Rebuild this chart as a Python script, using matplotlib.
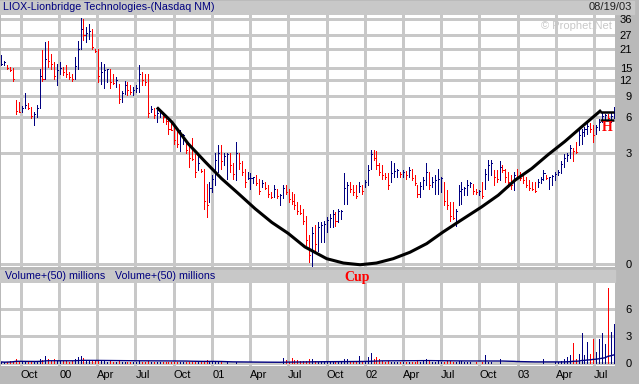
import numpy as np
import pandas as pd
import matplotlib
matplotlib.use('Agg')
import matplotlib.pyplot as plt
from matplotlib.patches import Rectangle

plt.rcParams['font.family'] = ['Liberation Sans', 'DejaVu Sans']

# LIOX weekly bars, week of 08/16/99 .. week of 08/18/03
start = '1999-08-16'
highs = [18.8, 17.0, 15.9, 15.2, 14.9, 8.3, 8.0, 7.5, 9.5, 7.9,
         7.3, 6.6, 7.6, 14.8, 20.6, 23.9, 24.2, 19.4, 16.7, 16.2,
         16.7, 15.2, 15.7, 13.9, 13.5, 18.3, 24.2, 36.7, 36.2, 31.3,
         33.2, 30.3, 21.2, 21.2, 16.7, 16.2, 14.8, 14.8, 13.5, 12.7,
         11.2, 9.9, 11.9, 11.6, 10.9, 10.6, 10.9, 15.7, 13.9, 13.5,
         13.5, 7.5, 7.1, 6.9, 6.9, 6.6, 6.3, 5.9, 5.5, 5.2,
         4.7, 4.7, 4.4, 3.7, 3.5, 4.0, 2.9, 2.8, 2.15, 2.15,
         1.53, 1.6, 1.86, 3.0, 3.5, 3.5, 3.0, 3.0, 3.0, 2.4,
         3.7, 3.0, 2.5, 2.15, 2.0, 1.93, 1.79, 1.86, 1.72, 1.66,
         1.6, 1.48, 1.26, 1.48, 1.36, 1.21, 1.48, 1.48, 1.36, 1.26,
         1.21, 0.98, 0.89, 0.81, 0.66, 0.33, 0.45, 0.48, 0.53, 0.53,
         0.56, 0.63, 0.70, 0.77, 0.73, 0.81, 0.77, 1.93, 1.60, 1.60,
         1.48, 1.48, 1.60, 1.48, 1.66, 2.3, 3.2, 3.2, 3.1, 2.4,
         2.3, 1.93, 1.93, 2.5, 2.4, 2.15, 2.0, 2.1, 2.05, 2.2,
         2.15, 1.86, 1.48, 1.6, 1.79, 2.4, 2.0, 1.79, 1.86, 2.15,
         1.79, 1.6, 1.31, 0.98, 0.98, 0.81, 1.48, 1.6, 1.42, 1.66,
         1.6, 1.53, 1.36, 1.31, 1.6, 2.15, 2.6, 2.6, 2.1, 2.1,
         2.5, 2.3, 2.15, 2.0, 1.86, 2.0, 2.15, 2.0, 1.86, 1.79,
         1.66, 1.6, 1.6, 1.72, 1.79, 2.1, 1.86, 1.79, 1.86, 2.0,
         2.1, 2.5, 2.9, 3.0, 3.5, 3.3, 3.7, 4.7, 4.85, 5.0,
         5.35, 5.35, 5.2, 5.2, 5.85, 6.65, 6.45, 6.45, 6.65, 7.3]
lows = [15.7, 15.7, 14.8, 14.3, 11.9, 6.4, 6.6, 6.6, 7.1, 7.0,
        5.9, 5.2, 6.1, 7.1, 11.9, 12.3, 15.2, 14.8, 12.3, 10.9,
        13.5, 13.1, 12.7, 12.3, 11.9, 12.3, 14.8, 21.2, 24.7, 23.9,
        25.4, 21.2, 19.9, 11.6, 11.2, 10.3, 11.6, 10.3, 11.2, 10.6,
        7.8, 8.0, 9.3, 9.1, 9.3, 9.1, 9.6, 9.6, 10.9, 10.9,
        6.1, 6.6, 5.9, 5.5, 6.1, 5.5, 5.3, 4.4, 4.7, 3.6,
        3.4, 3.1, 3.6, 3.0, 2.2, 2.6, 1.8, 2.1, 2.0, 0.81,
        0.63, 0.98, 1.26, 1.48, 2.0, 2.15, 2.3, 1.72, 2.0, 1.72,
        1.66, 2.15, 1.86, 1.42, 1.72, 1.36, 1.54, 1.48, 1.21, 1.42,
        1.36, 1.12, 1.07, 1.12, 1.07, 0.89, 1.07, 1.21, 0.98, 0.93,
        0.81, 0.70, 0.70, 0.50, 0.19, 0.01, -0.02, 0.12, 0.12, 0.23,
        0.23, 0.37, 0.45, 0.45, 0.47, 0.53, 0.60, 0.93, 0.93, 1.26,
        1.16, 1.07, 1.26, 1.21, 1.42, 1.48, 2.15, 2.6, 2.15, 1.86,
        1.72, 1.72, 1.36, 1.6, 1.79, 1.79, 1.79, 1.79, 1.72, 1.79,
        1.66, 1.48, 1.12, 1.12, 1.36, 1.48, 1.36, 1.42, 1.21, 1.21,
        1.26, 0.89, 0.81, 0.56, 0.60, 0.47, 0.89, 0.93, 1.16, 1.16,
        1.42, 1.21, 1.21, 1.16, 1.07, 1.36, 1.66, 1.86, 1.48, 1.6,
        1.66, 2.0, 1.6, 1.42, 1.36, 1.31, 1.72, 1.66, 1.54, 1.42,
        1.31, 1.31, 1.26, 1.42, 1.54, 1.66, 1.72, 1.36, 1.48, 1.66,
        1.86, 1.93, 2.2, 2.5, 2.7, 2.5, 3.0, 3.5, 3.6, 4.15,
        4.4, 4.5, 3.75, 4.4, 4.7, 5.5, 5.7, 5.7, 5.5, 5.9]
closes = [16.2, 16.6, 15.0, 14.5, 12.3, 6.8, 6.7, 7.2, 7.6, 7.2,
          6.2, 6.4, 7.2, 13.0, 12.3, 17.5, 17.0, 16.0, 13.0, 14.5,
          15.0, 14.0, 13.5, 12.8, 12.2, 15.5, 21.0, 30.0, 27.0, 28.0,
          29.0, 22.0, 20.2, 13.0, 14.0, 14.5, 14.6, 11.5, 11.3, 12.0,
          8.5, 9.5, 11.0, 10.0, 9.6, 10.0, 10.4, 13.5, 12.0, 11.5,
          6.5, 7.0, 6.3, 6.5, 6.7, 6.0, 5.6, 4.8, 4.75, 3.9,
          3.6, 4.2, 4.3, 3.2, 2.7, 2.65, 2.0, 2.4, 2.05, 1.0,
          0.9, 1.4, 1.7, 2.6, 3.0, 2.5, 2.8, 2.9, 2.3, 1.9,
          3.0, 2.4, 2.0, 1.6, 1.74, 1.75, 1.77, 1.55, 1.3, 1.55,
          1.4, 1.2, 1.1, 1.35, 1.15, 1.18, 1.4, 1.25, 1.05, 1.0,
          0.9, 0.75, 0.72, 0.55, 0.25, 0.08, 0.35, 0.2, 0.45, 0.48,
          0.5, 0.58, 0.62, 0.7, 0.55, 0.75, 0.76, 1.4, 1.5, 1.35,
          1.25, 1.15, 1.45, 1.3, 1.6, 2.1, 2.9, 2.7, 2.3, 2.0,
          1.85, 1.78, 1.5, 1.95, 2.05, 2.1, 1.9, 2.0, 1.85, 2.1,
          1.75, 1.55, 1.2, 1.45, 1.65, 2.0, 1.5, 1.6, 1.65, 1.7,
          1.75, 1.0, 0.9, 0.65, 0.62, 0.75, 1.3, 1.35, 1.4, 1.5,
          1.55, 1.3, 1.25, 1.28, 1.15, 1.9, 2.3, 2.4, 1.8, 1.7,
          2.2, 2.1, 1.8, 1.6, 1.5, 1.85, 1.8, 1.75, 1.65, 1.5,
          1.4, 1.35, 1.3, 1.6, 1.7, 1.95, 1.75, 1.78, 1.82, 1.9,
          2.0, 2.35, 2.7, 2.85, 3.3, 3.1, 3.05, 4.3, 4.5, 4.8,
          5.1, 4.8, 4.3, 5.0, 5.5, 6.2, 6.3, 5.9, 6.2, 6.8]
# weekly volume, millions
volumes = [0.15, 0.10, 0.15, 0.20, 0.26, 0.48, 0.20, 0.15, 0.22, 0.15,
           0.20, 0.18, 0.22, 0.44, 0.37, 0.81, 0.52, 0.30, 0.44, 0.30,
           0.25, 0.20, 0.22, 0.15, 0.20, 0.44, 0.70, 0.81, 0.59, 0.37,
           0.30, 0.26, 0.22, 0.30, 0.20, 0.22, 0.18, 0.20, 0.15, 0.18,
           0.22, 0.18, 0.15, 0.15, 0.18, 0.15, 0.12, 0.20, 0.15, 0.15,
           0.22, 0.15, 0.12, 0.15, 0.12, 0.15, 0.12, 0.15, 0.10, 0.15,
           0.12, 0.15, 0.10, 0.12, 0.18, 0.12, 0.15, 0.10, 0.10, 0.18,
           0.37, 0.15, 0.12, 0.15, 0.10, 0.12, 0.08, 0.10, 0.08, 0.07,
           0.10, 0.07, 0.06, 0.08, 0.05, 0.06, 0.05, 0.07, 0.06, 0.05,
           0.06, 0.07, 0.05, 0.06, 0.07, 0.08, 0.63, 0.41, 0.15, 0.59,
           0.37, 0.41, 0.20, 0.25, 0.30, 0.52, 0.44, 0.20, 0.18, 0.15,
           0.20, 0.15, 0.18, 0.15, 0.12, 0.15, 0.18, 0.44, 0.52, 0.20,
           0.18, 0.20, 0.81, 0.30, 0.20, 0.74, 1.15, 0.44, 0.74, 0.48,
           0.22, 0.18, 0.20, 0.15, 0.18, 0.15, 0.12, 0.15, 0.18, 0.15,
           0.12, 0.15, 0.20, 0.18, 0.22, 0.44, 0.20, 0.15, 0.18, 0.20,
           0.15, 0.18, 0.20, 0.22, 0.15, 0.18, 0.20, 0.20, 0.15, 0.12,
           0.10, 0.08, 0.10, 0.07, 0.10, 0.93, 0.12, 0.10, 0.08, 0.07,
           0.44, 0.08, 0.06, 0.07, 0.05, 0.08, 0.06, 0.05, 0.07, 0.06,
           0.05, 0.06, 0.07, 0.05, 0.08, 0.44, 0.07, 0.06, 0.08, 0.10,
           0.12, 0.20, 0.52, 0.70, 0.93, 2.30, 0.48, 1.04, 3.40, 0.96,
           2.40, 1.04, 2.74, 1.30, 2.74, 3.33, 2.15, 8.40, 3.50, 4.40]

# hand drawn cup and handle
cup_dates = ['2000-08-24', '2000-09-26', '2000-11-04', '2000-12-14', '2001-01-23',
             '2001-03-04', '2001-04-13', '2001-05-23', '2001-07-01', '2001-08-10',
             '2001-10-01', '2001-11-10', '2001-12-20', '2002-01-28', '2002-03-09',
             '2002-04-18', '2002-05-28', '2002-07-06', '2002-08-16', '2002-10-06',
             '2002-11-15', '2002-12-25', '2003-02-03', '2003-03-14', '2003-04-23',
             '2003-06-02', '2003-07-16']
cup_prices = [7.1, 5.5, 3.6, 2.5, 1.72, 1.21, 0.81, 0.53, 0.35, 0.17,
              0.045, 0.005, -0.01, 0.005, 0.045, 0.11, 0.21, 0.37, 0.56, 0.85,
              1.16, 1.66, 2.15, 2.88, 3.76, 5.0, 6.75]
handle_dates = ['2003-07-16', '2003-08-19']
handle_levels = [6.65, 5.68]

price_ticks = [0, 3, 6, 9, 12, 15, 21, 27, 36]
vol_ticks = [0, 3, 6]
quarter_labels = ['Oct', '00', 'Apr', 'Jul', 'Oct', '01', 'Apr', 'Jul',
                  'Oct', '02', 'Apr', 'Jul', 'Oct', '03', 'Apr', 'Jul']

navy = '#000080'
red = '#ff0000'
grid_col = '#c8c8c8'
band_col = '#c8c8c8'
bar_lw = 0.6

dates = pd.date_range(start, periods=len(closes), freq='7D')
quarters = pd.date_range('1999-10-01', '2003-07-01', freq='QS')
c = np.array(closes)
prev = np.concatenate([[c[0]], c[:-1]])
cols = np.where(c >= prev, navy, red)

W, H = 639, 384
fig = plt.figure(figsize=(W / 100, H / 100), dpi=100, facecolor='#b9b9b9')

def box(l, t, r, b):
    return [l / W, 1 - b / H, (r - l) / W, (b - t) / H]

# solid bands behind title and volume header
fig.add_artist(Rectangle((0, 1 - 14 / H), 634 / W, 13 / H, transform=fig.transFigure,
                         color=band_col, zorder=0))
fig.add_artist(Rectangle((0, 1 - 282 / H), 615 / W, 12 / H, transform=fig.transFigure,
                         color=band_col, zorder=0))

ax = fig.add_axes(box(1, 15, 615, 267))
axv = fig.add_axes(box(1, 283, 615, 366))

xmin = pd.Timestamp('1999-08-14 22:00')
xmax = pd.Timestamp('2003-08-20 21:30')

# price panel
ax.set_yscale('function', functions=(lambda v: np.log(np.maximum(v + 0.5, 1e-6)),
                                     lambda v: np.exp(v) - 0.5))
ax.vlines(dates, lows, highs, colors=cols, lw=bar_lw, antialiased=False, zorder=3)
ax.hlines(closes, dates, dates + pd.Timedelta(days=2.5), colors=cols, lw=bar_lw,
          antialiased=False, zorder=3)
ax.plot(pd.to_datetime(cup_dates), cup_prices, color='black', lw=2.2, zorder=4)
ax.hlines(handle_levels, pd.Timestamp(handle_dates[0]), pd.Timestamp(handle_dates[1]),
          color='black', lw=1.8, zorder=4)
ax.set_xlim(xmin, xmax)
ax.set_ylim(-0.029, 38.7)
ax.set_xticks(quarters)
ax.set_yticks(price_ticks)
ax.set_yticklabels([str(t) for t in price_ticks])
ax.grid(True, color=grid_col, lw=1, antialiased=False)
ax.set_axisbelow(True)
ax.tick_params(axis='x', length=0, labelbottom=False)
ax.tick_params(axis='y', length=0, left=False, labelleft=False, labelright=True,
               pad=12.3, labelsize=8)
plt.setp(ax.get_yticklabels(), ha='right')
for s in ax.spines.values():
    s.set_visible(False)
ax.text(0.995, 0.955, '\u00a9 Prophet.Net', transform=ax.transAxes, ha='right', va='center',
        fontsize=8, color='#c8c8c8')

# volume panel
ma = pd.Series(volumes).rolling(50, min_periods=1).mean()
axv.vlines(dates, 0, volumes, colors=cols, lw=bar_lw, antialiased=False, zorder=3)
axv.plot(dates, ma, color=navy, lw=1, zorder=4)
axv.set_xlim(xmin, xmax)
axv.set_ylim(-0.3, 8.92)
axv.set_yticks(vol_ticks)
axv.set_yticklabels([str(t) for t in vol_ticks])
axv.set_xticks(quarters)
axv.set_xticklabels(quarter_labels, ha='left')
axv.grid(True, color=grid_col, lw=1, antialiased=False)
axv.set_axisbelow(True)
axv.tick_params(axis='x', length=0, pad=3, labelsize=8)
axv.tick_params(axis='y', length=0, left=False, labelleft=False, labelright=True,
                pad=12.3, labelsize=8)
plt.setp(axv.get_yticklabels(), ha='right')
for s in axv.spines.values():
    s.set_visible(False)

# labels
fig.text(3 / W, 1 - 7.5 / H, 'LIOX-Lionbridge Technologies-(Nasdaq NM)', color=navy,
         fontsize=7.7, ha='left', va='center')
fig.text(632 / W, 1 - 7.5 / H, '08/19/03', color='#202020', fontsize=8, ha='right', va='center')
fig.text(5 / W, 1 - 276 / H, 'Volume+(50) millions', color=navy, fontsize=7.7, ha='left', va='center')
fig.text(115 / W, 1 - 276 / H, 'Volume+(50) millions', color=navy, fontsize=7.7, ha='left', va='center')
fig.text(357 / W, 1 - 277.5 / H, 'Cup', color=red, fontsize=10, fontweight='bold',
         family='Liberation Serif', ha='center', va='center')
fig.text(607.5 / W, 1 - 127.5 / H, 'H', color=red, fontsize=10, fontweight='bold',
         family='Liberation Serif', ha='center', va='center')

fig.savefig('out.png', dpi=100, facecolor=fig.get_facecolor())
